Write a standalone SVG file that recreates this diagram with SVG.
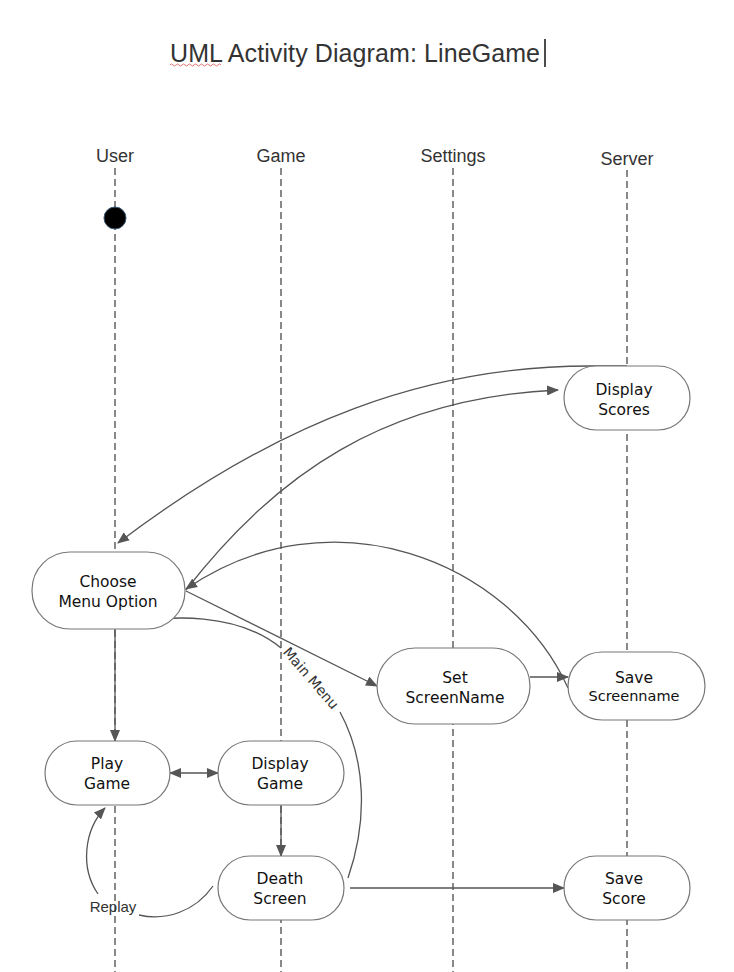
<svg xmlns="http://www.w3.org/2000/svg" width="734" height="972" viewBox="0 0 734 972">
<defs>
<marker id="arr" viewBox="0 0 12 10" refX="11" refY="5" markerWidth="12" markerHeight="10" markerUnits="userSpaceOnUse" orient="auto-start-reverse">
<path d="M0,0 L12,5 L0,10 Z" fill="#555"/>
</marker>
<style>
.lane{stroke:#888;stroke-width:2;stroke-dasharray:7,4;fill:none}
.lh{font-family:"Liberation Sans",Arial,sans-serif;font-size:18px;fill:#333;text-anchor:middle}
.node rect{fill:#fff;stroke:#777;stroke-width:1.2}
.node text{font-family:"DejaVu Sans",Verdana,sans-serif;font-size:15.5px;fill:#111;text-anchor:middle}
.c{fill:none;stroke:#555;stroke-width:1.3}
.lbl{font-family:"DejaVu Sans",Verdana,sans-serif;font-size:14px;fill:#333;text-anchor:middle}
</style>
</defs>
<rect width="734" height="972" fill="#fff"/>
<g id="title">
<text x="170" y="62" font-family="Liberation Sans, Arial, sans-serif" font-size="25" fill="#333" textLength="370" lengthAdjust="spacing">UML Activity Diagram: LineGame</text>
<path d="M170,65 q1.5,-2 3,0 t3,0 t3,0 t3,0 t3,0 t3,0 t3,0 t3,0 t3,0 t3,0 t3,0 t3,0 t3,0 t3,0 t3,0 t3,0 t3,0" fill="none" stroke="#e05050" stroke-width="0.8"/>
<line x1="545" y1="39" x2="545" y2="67" stroke="#111" stroke-width="1.5"/>
</g>
<g id="lanes">
<text class="lh" x="115" y="162">User</text>
<text class="lh" x="281" y="162">Game</text>
<text class="lh" x="453" y="162">Settings</text>
<text class="lh" x="627" y="165">Server</text>
<line class="lane" x1="115" y1="168" x2="115" y2="972"/>
<line class="lane" x1="281" y1="168" x2="281" y2="972"/>
<line class="lane" x1="453" y1="168" x2="453" y2="972"/>
<line class="lane" x1="627" y1="170" x2="627" y2="972"/>
</g>
<g id="connectors">
<path class="c" d="M627,366 L590,366 C430,366 280,420 118,543" marker-end="url(#arr)"/>
<path class="c" d="M186,590 C275,475 385,398 558,390" marker-end="url(#arr)"/>
<path class="c" d="M568,688 C510,560 330,490 186,589" marker-end="url(#arr)"/>
<path class="c" d="M186,591 L377,686" marker-end="url(#arr)"/>
<path class="c" d="M530,677 L568,677" marker-end="url(#arr)"/>
<path class="c" d="M115,629 L115,741" marker-end="url(#arr)"/>
<path class="c" d="M170,773 L218,773" marker-start="url(#arr)" marker-end="url(#arr)"/>
<path class="c" d="M281,805 L281,856" marker-end="url(#arr)"/>
<path class="c" d="M350,888 L564,888" marker-end="url(#arr)"/>
<path class="c" d="M213,886 C195,912 165,921 139,915"/>
<path class="c" d="M98,894 C80,868 84,830 105,808" marker-end="url(#arr)"/>
<text x="113" y="912" font-family="Liberation Sans, Arial, sans-serif" font-size="15" fill="#333" text-anchor="middle">Replay</text>
<path class="c" d="M348,878 C368,820 366,760 340,712"/>
<path class="c" d="M281,648 C240,614 170,612 118,627" marker-end="url(#arr)"/>
<text class="lbl" x="311" y="683" transform="rotate(49 311 678)">Main Menu</text>
</g>
<g id="start">
<circle cx="115" cy="218" r="11" fill="#000" stroke="#3c5a78" stroke-width="1"/>
</g>
<g id="displayScores" class="node">
<rect x="564" y="366" width="126" height="64" rx="32"/>
<text x="624" y="395">Display</text>
<text x="624" y="415">Scores</text>
</g>
<g id="chooseMenu" class="node">
<rect x="32" y="552" width="153" height="77" rx="38"/>
<text x="108" y="587">Choose</text>
<text x="108" y="607">Menu Option</text>
</g>
<g id="setScreenName" class="node">
<rect x="377" y="648" width="153" height="76" rx="38"/>
<text x="455" y="683">Set</text>
<text x="455" y="703">ScreenName</text>
</g>
<g id="saveScreenname" class="node">
<rect x="568" y="652" width="137" height="68" rx="34"/>
<text x="634" y="683">Save</text>
<text x="634" y="701" style="font-size:14.5px">Screenname</text>
</g>
<g id="playGame" class="node">
<rect x="45" y="741" width="125" height="64" rx="32"/>
<text x="107" y="769">Play</text>
<text x="107" y="789">Game</text>
</g>
<g id="displayGame" class="node">
<rect x="218" y="741" width="126" height="64" rx="32"/>
<text x="280" y="769">Display</text>
<text x="280" y="789">Game</text>
</g>
<g id="deathScreen" class="node">
<rect x="218" y="856" width="126" height="64" rx="32"/>
<text x="280" y="884">Death</text>
<text x="280" y="904">Screen</text>
</g>
<g id="saveScore" class="node">
<rect x="564" y="856" width="126" height="64" rx="32"/>
<text x="624" y="884">Save</text>
<text x="624" y="904">Score</text>
</g>
</svg>
